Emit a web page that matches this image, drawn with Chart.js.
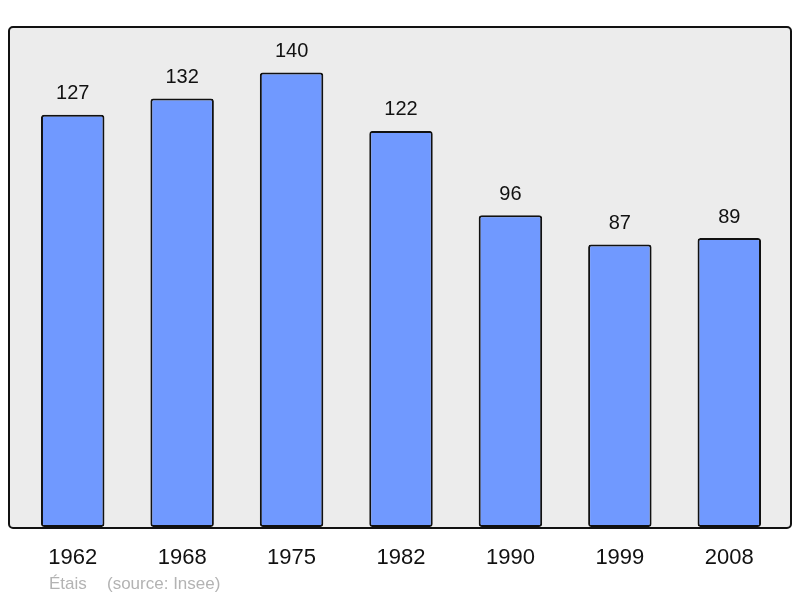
<!DOCTYPE html>
<html>
<head>
<meta charset="utf-8">
<script src="https://cdn.jsdelivr.net/npm/chart.js@4"></script>
<style>
  html, body { margin: 0; padding: 0; background: #fff; }
  #wrap { width: 800px; height: 598px; }
</style>
</head>
<body>
<div id="wrap"><canvas id="pop"></canvas></div>
<script>
const years = ['1962', '1968', '1975', '1982', '1990', '1999', '2008'];
const population = [127, 132, 140, 122, 96, 87, 89];
const yMax = 154;
const placeName = 'Étais';
const sourceText = '(source: Insee)';

// grey panel with rounded border behind the bars, plus the footer line
const panel = {
    id: 'panel',
    beforeDraw(chart) {
        const a = chart.chartArea, c = chart.ctx;
        const x = a.left - 9, y = a.top, w = (a.right + 7) - x, h = (a.bottom + 1) - y;
        c.save();
        c.beginPath();
        c.roundRect(x, y, w, h, 4);
        c.fillStyle = '#ececec';
        c.fill();
        c.lineWidth = 2;
        c.strokeStyle = '#111';
        c.stroke();
        c.restore();
    },
    afterDraw(chart) {
        const c = chart.ctx;
        c.save();
        c.font = '17px "Liberation Sans", Arial, sans-serif';
        c.fillStyle = '#b3b3b3';
        c.textBaseline = 'middle';
        c.fillText(placeName, 49, 584);
        c.fillText(sourceText, 107, 584);
        c.restore();
    }
};

// value above each bar
const valueLabels = {
    id: 'valueLabels',
    afterDatasetsDraw(chart) {
        const c = chart.ctx;
        const meta = chart.getDatasetMeta(0);
        c.save();
        c.font = '20px "Liberation Sans", Arial, sans-serif';
        c.fillStyle = '#111';
        c.textAlign = 'center';
        c.textBaseline = 'middle';
        meta.data.forEach((bar, i) => {
            c.fillText(population[i], bar.x, bar.y - 21);
        });
        c.restore();
    }
};

const ctx = document.getElementById('pop').getContext('2d');
new Chart(ctx, {
    type: 'bar',
    data: {
        labels: years,
        datasets: [{
            data: population,
            backgroundColor: '#7099ff',
            borderColor: '#111',
            borderWidth: 2,
            borderRadius: 3,
            borderSkipped: false,
            categoryPercentage: 1,
            barPercentage: 0.58
        }]
    },
    options: {
        responsive: true,
        maintainAspectRatio: false,
        animation: false,
        layout: { padding: { left: 18, right: 16, top: 27, bottom: 21 } },
        plugins: {
            legend: { display: false },
            tooltip: { enabled: false }
        },
        scales: {
            x: {
                grid: { display: false, drawTicks: false },
                border: { display: false },
                ticks: {
                    color: '#111',
                    padding: 18,
                    font: { family: '"Liberation Sans", Arial, sans-serif', size: 22 }
                },
                afterFit(axis) { axis.height = 50; }
            },
            y: {
                display: false,
                min: 0,
                max: yMax
            }
        }
    },
    plugins: [panel, valueLabels]
});
</script>
</body>
</html>
